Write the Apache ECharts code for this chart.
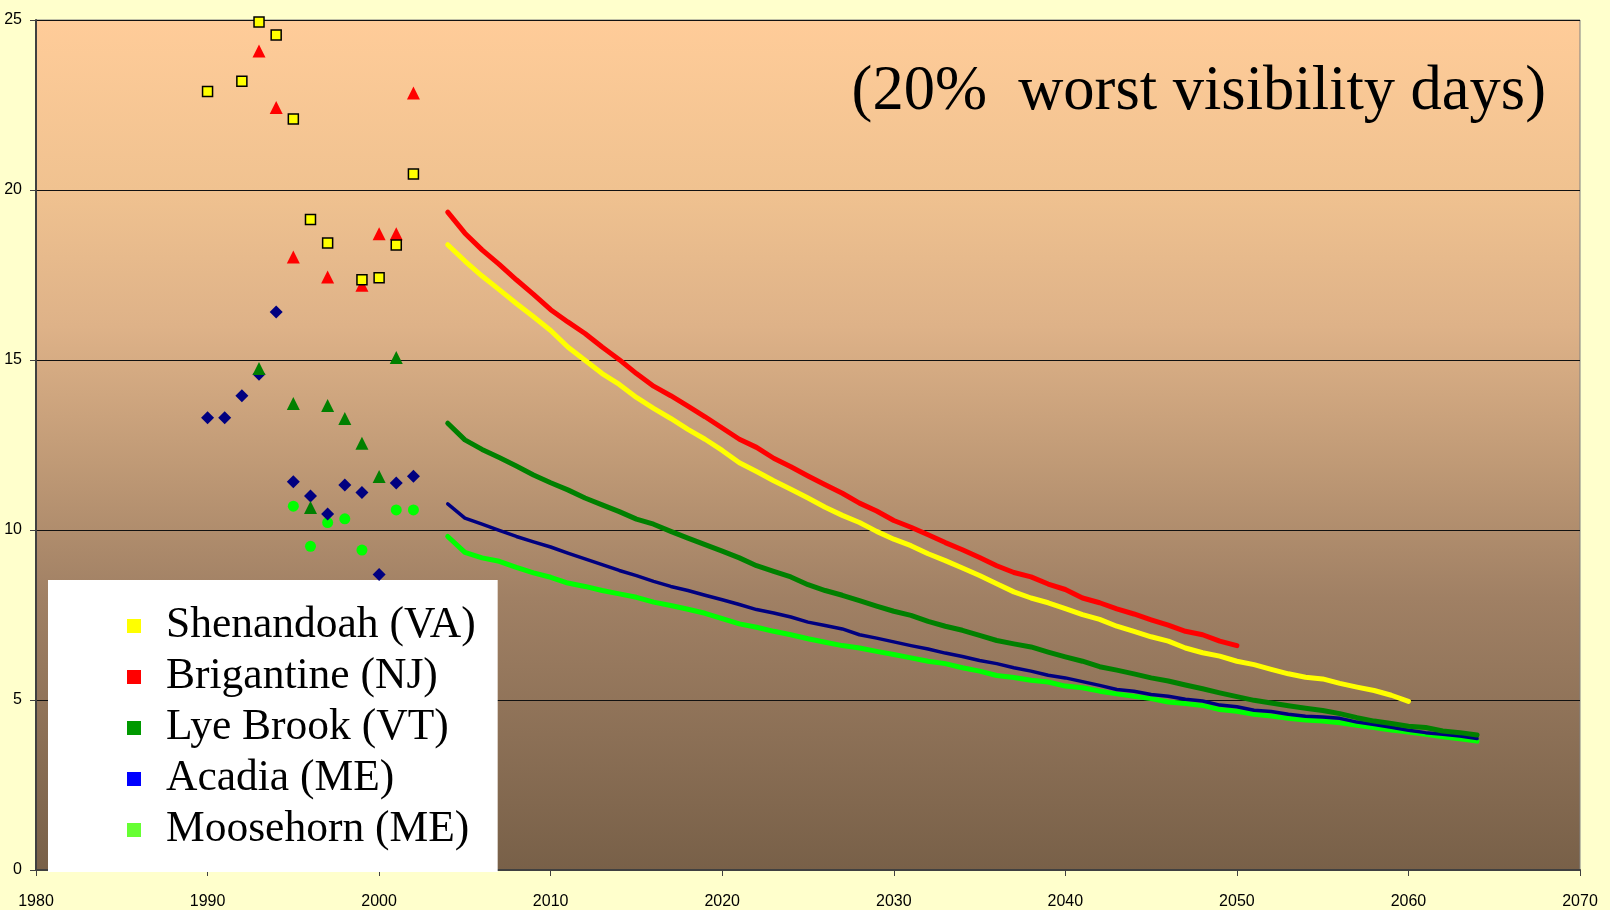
<!DOCTYPE html>
<html>
<head>
<meta charset="utf-8">
<script src="https://cdn.jsdelivr.net/npm/echarts/dist/echarts.min.js"></script>
<style>
  html, body { margin: 0; padding: 0; background: #ffffcc; }
  #container { width: 1610px; height: 910px; }
</style>
</head>
<body>
<div id="container"></div>
<script>
// site names (legend order)
var sites = ['Shenandoah (VA)', 'Brigantine (NJ)', 'Lye Brook (VT)', 'Acadia (ME)', 'Moosehorn (ME)']

// measured values, 1990-2002
var shenObsYears = [1990, 1992, 1993, 1994, 1995, 1996, 1997, 1999, 2000, 2001, 2002]
var shenObsVals = [22.9, 23.2, 24.94, 24.56, 22.09, 19.13, 18.44, 17.36, 17.42, 18.38, 20.47]
var brigObsYears = [1993, 1994, 1995, 1997, 1999, 2000, 2001, 2002]
var brigObsVals = [24.09, 22.43, 18.03, 17.44, 17.2, 18.71, 18.71, 22.85]
var lyeObsYears = [1993, 1995, 1996, 1997, 1998, 1999, 2000, 2001]
var lyeObsVals = [14.75, 13.72, 10.66, 13.66, 13.28, 12.55, 11.57, 15.07]
var acadObsYears = [1990, 1991, 1992, 1993, 1994, 1995, 1996, 1997, 1998, 1999, 2000, 2001, 2002]
var acadObsVals = [13.3, 13.3, 13.95, 14.58, 16.41, 11.42, 11.0, 10.47, 11.32, 11.1, 8.69, 11.38, 11.58]
var mooseObsYears = [1995, 1996, 1997, 1998, 1999, 2001, 2002]
var mooseObsVals = [10.7, 9.52, 10.22, 10.33, 9.41, 10.59, 10.59]

// projected glide paths, one value per year from 2004
var projStart = 2004
var shenProj = [18.39, 17.91, 17.47, 17.07, 16.66, 16.27, 15.87, 15.38, 14.99, 14.6,
  14.28, 13.9, 13.58, 13.28, 12.96, 12.67, 12.34, 11.98, 11.72, 11.45,
  11.2, 10.94, 10.67, 10.43, 10.22, 9.96, 9.73, 9.54, 9.3, 9.1,
  8.88, 8.66, 8.42, 8.18, 8.0, 7.86, 7.69, 7.51, 7.37, 7.17,
  7.02, 6.86, 6.73, 6.53, 6.39, 6.29, 6.14, 6.04, 5.9, 5.77,
  5.67, 5.62, 5.49, 5.38, 5.28, 5.14, 4.96]
var brigProj = [19.35, 18.73, 18.24, 17.81, 17.36, 16.93, 16.48, 16.12, 15.78, 15.38,
  15.01, 14.6, 14.23, 13.95, 13.64, 13.33, 13.0, 12.67, 12.43, 12.11,
  11.86, 11.59, 11.33, 11.08, 10.79, 10.56, 10.28, 10.08, 9.86, 9.63,
  9.42, 9.19, 8.95, 8.75, 8.62, 8.41, 8.25, 8.0, 7.86, 7.68,
  7.53, 7.36, 7.2, 7.02, 6.92, 6.73, 6.6]
var lyeProj = [13.14, 12.65, 12.37, 12.13, 11.88, 11.62, 11.39, 11.18, 10.94, 10.74,
  10.54, 10.32, 10.17, 9.96, 9.76, 9.57, 9.38, 9.18, 8.95, 8.78,
  8.62, 8.39, 8.22, 8.08, 7.92, 7.76, 7.61, 7.49, 7.31, 7.17,
  7.05, 6.9, 6.75, 6.65, 6.56, 6.41, 6.27, 6.14, 5.98, 5.88,
  5.77, 5.65, 5.56, 5.44, 5.33, 5.21, 5.1, 4.99, 4.91, 4.83,
  4.76, 4.69, 4.6, 4.48, 4.38, 4.31, 4.23, 4.19, 4.09, 4.04, 3.97]
var acadProj = [10.77, 10.35, 10.17, 9.99, 9.81, 9.65, 9.5, 9.32, 9.15, 8.98,
  8.81, 8.66, 8.49, 8.34, 8.22, 8.08, 7.95, 7.81, 7.66, 7.56,
  7.44, 7.29, 7.19, 7.09, 6.92, 6.82, 6.71, 6.6, 6.5, 6.38,
  6.28, 6.16, 6.07, 5.95, 5.85, 5.73, 5.65, 5.54, 5.43, 5.31,
  5.26, 5.16, 5.11, 5.02, 4.97, 4.85, 4.8, 4.7, 4.66, 4.58,
  4.52, 4.5, 4.46, 4.35, 4.28, 4.2, 4.11, 4.04, 3.99, 3.94, 3.87]
var mooseProj = [9.81, 9.34, 9.18, 9.08, 8.9, 8.74, 8.61, 8.44, 8.34, 8.22,
  8.12, 8.02, 7.88, 7.78, 7.67, 7.55, 7.39, 7.24, 7.14, 7.02,
  6.92, 6.8, 6.7, 6.6, 6.53, 6.43, 6.34, 6.24, 6.14, 6.07,
  5.95, 5.85, 5.72, 5.66, 5.58, 5.53, 5.41, 5.36, 5.26, 5.18,
  5.11, 5.04, 4.94, 4.9, 4.84, 4.72, 4.67, 4.58, 4.53, 4.46,
  4.41, 4.38, 4.33, 4.26, 4.19, 4.12, 4.06, 3.99, 3.92, 3.86, 3.79]

// axis ticks
var xMin = 1980, xMax = 2070, xStep = 10
var yMin = 0, yMax = 25, yStep = 5

function pairs (years, vals) {
  return vals.map(function (v, i) { return [years[i], v] })
}
function proj (vals) {
  return vals.map(function (v, i) { return [projStart + i, v] })
}

var serif = 'Liberation Serif, Times New Roman, serif'
var sans = 'Liberation Sans, Arial, sans-serif'

var option = {
  backgroundColor: '#ffffcc',
  animation: false,
  title: {
    text: '(20%  worst visibility days)',
    right: 59,
    top: 57,
    textStyle: { fontFamily: serif, fontSize: 62.5, fontWeight: 'normal', color: '#000', lineHeight: 62 }
  },
  legend: {
    orient: 'vertical',
    left: 48,
    top: 580,
    padding: [24, 22, 20, 79],
    itemGap: 7,
    itemWidth: 14,
    itemHeight: 14,
    icon: 'rect',
    selectedMode: false,
    backgroundColor: '#ffffff',
    textStyle: { fontFamily: serif, fontSize: 43.5, color: '#000', lineHeight: 42, padding: [0, 0, 0, 20] },
    data: [
      { name: sites[0], itemStyle: { color: '#ffff00' } },
      { name: sites[1], itemStyle: { color: '#ff0000' } },
      { name: sites[2], itemStyle: { color: '#009900' } },
      { name: sites[3], itemStyle: { color: '#0000ff' } },
      { name: sites[4], itemStyle: { color: '#66ff33' } }
    ]
  },
  grid: {
    left: 36,
    right: 30,
    top: 20,
    bottom: 39,
    show: true,
    borderColor: '#808080',
    borderWidth: 1,
    backgroundColor: {
      type: 'linear', x: 0, y: 0, x2: 0, y2: 1,
      colorStops: [
        { offset: 0, color: '#ffcc99' },
        { offset: 0.2, color: '#f0c290' },
        { offset: 0.36, color: '#deb288' },
        { offset: 0.52, color: '#c09a76' },
        { offset: 0.68, color: '#a08064' },
        { offset: 1, color: '#786048' }
      ]
    }
  },
  xAxis: {
    type: 'value',
    min: xMin,
    max: xMax,
    interval: xStep,
    axisLine: { show: true, lineStyle: { color: '#404040', width: 2 } },
    axisTick: { show: true, length: 6, lineStyle: { color: '#404040' } },
    splitLine: { show: false },
    axisLabel: {
      margin: 24,
      fontFamily: sans,
      fontSize: 16,
      color: '#000',
      formatter: function (v) { return String(v) }
    }
  },
  yAxis: {
    type: 'value',
    min: yMin,
    max: yMax,
    interval: yStep,
    axisLine: { show: true, lineStyle: { color: '#404040', width: 2 } },
    axisTick: { show: true, length: 6, lineStyle: { color: '#404040' } },
    splitLine: { show: true, lineStyle: { color: '#111', width: 1 } },
    axisLabel: { margin: 14, fontFamily: sans, fontSize: 16, color: '#000' }
  },
  series: [
    // projections
    {
      name: sites[4], type: 'line', symbol: 'none', z: 2,
      lineStyle: { color: '#00ff00', width: 5, cap: 'round', join: 'round' },
      itemStyle: { color: '#66ff33' },
      data: proj(mooseProj)
    },
    {
      name: sites[3], type: 'line', symbol: 'none', z: 3,
      lineStyle: { color: '#000080', width: 3.5, cap: 'round', join: 'round' },
      itemStyle: { color: '#0000ff' },
      data: proj(acadProj)
    },
    {
      name: sites[2], type: 'line', symbol: 'none', z: 4,
      lineStyle: { color: '#008000', width: 5, cap: 'round', join: 'round' },
      itemStyle: { color: '#009900' },
      data: proj(lyeProj)
    },
    {
      name: sites[0], type: 'line', symbol: 'none', z: 5,
      lineStyle: { color: '#ffff00', width: 5, cap: 'round', join: 'round' },
      itemStyle: { color: '#ffff00' },
      data: proj(shenProj)
    },
    {
      name: sites[1], type: 'line', symbol: 'none', z: 6,
      lineStyle: { color: '#ff0000', width: 5, cap: 'round', join: 'round' },
      itemStyle: { color: '#ff0000' },
      data: proj(brigProj)
    },
    // measured points
    {
      name: sites[4], type: 'scatter', symbol: 'circle', symbolSize: 11, z: 7,
      itemStyle: { color: '#00ff00', opacity: 1 },
      data: pairs(mooseObsYears, mooseObsVals)
    },
    {
      name: sites[3], type: 'scatter', symbol: 'diamond', symbolSize: 13, z: 8,
      itemStyle: { color: '#000080', opacity: 1 },
      data: pairs(acadObsYears, acadObsVals)
    },
    {
      name: sites[2], type: 'scatter', symbol: 'triangle', symbolSize: 13, z: 9,
      itemStyle: { color: '#008000', opacity: 1 },
      data: pairs(lyeObsYears, lyeObsVals)
    },
    {
      name: sites[1], type: 'scatter', symbol: 'triangle', symbolSize: 13, z: 10,
      itemStyle: { color: '#ff0000', opacity: 1 },
      data: pairs(brigObsYears, brigObsVals)
    },
    {
      name: sites[0], type: 'scatter', symbol: 'rect', symbolSize: 10, z: 11,
      itemStyle: { color: '#ffff00', borderColor: '#000', borderWidth: 1.5, opacity: 1 },
      data: pairs(shenObsYears, shenObsVals)
    }
  ]
}

var myChart = echarts.init(document.getElementById('container'), null, { renderer: 'canvas' })
myChart.setOption(option)
</script>
</body>
</html>
